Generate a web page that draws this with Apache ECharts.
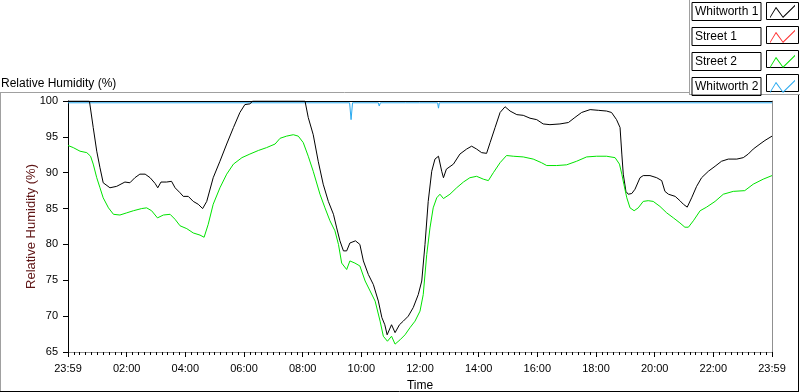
<!DOCTYPE html>
<html>
<head>
<meta charset="utf-8">
<script src="https://cdn.jsdelivr.net/npm/echarts@6/dist/echarts.min.js"></script>
<style>
  html, body { margin: 0; padding: 0; background: #fff; }
  #chart { width: 800px; height: 392px; }
</style>
</head>
<body>
<div id="chart"></div>
<script>
// time in hours since 23:59 of the previous day
var whitworth1Hours = [0, 0.73, 0.86, 0.98, 1.09, 1.2, 1.43, 1.66, 1.94, 2.11, 2.28, 2.45, 2.63, 2.8, 2.97, 3.06, 3.17, 3.36, 3.53, 3.65, 3.82, 3.93, 4.1, 4.27, 4.44, 4.59, 4.73, 4.95, 5.18, 5.41, 5.64, 5.86, 6.03, 6.2, 6.3,
  8.08, 8.19, 8.36, 8.53, 8.7, 8.875, 9.05, 9.16, 9.27, 9.39, 9.5, 9.61, 9.8, 9.95, 10.07, 10.24, 10.41, 10.58, 10.7, 10.8, 10.88, 11.03, 11.15, 11.3, 11.43, 11.6, 11.77, 11.94,
  12.06, 12.17, 12.28, 12.4, 12.51, 12.63, 12.74, 12.8, 12.9, 13.14, 13.36, 13.59, 13.76, 13.93, 14.1, 14.27, 14.39, 14.56, 14.73, 14.9, 15.07, 15.3, 15.52, 15.75, 15.98,
  16.2, 16.43, 16.77, 17.06, 17.28, 17.51, 17.8, 18.08, 18.36, 18.53, 18.7, 18.82, 18.88, 18.93, 19.02, 19.1, 19.22, 19.33, 19.5, 19.61, 19.84, 20.07, 20.24, 20.35, 20.47,
  20.7, 20.86, 20.98, 21.11, 21.26, 21.43, 21.6, 21.83, 22.06, 22.28, 22.51, 22.8, 23.02, 23.19, 23.36, 23.59, 23.76, 24];
var whitworth1Values = [100, 100, 96.3, 93.0, 90.7, 88.6, 87.9, 88.1, 88.7, 88.6, 89.3, 89.8, 89.8, 89.3, 88.5, 87.9, 88.7, 88.7, 88.8, 87.9, 87.2, 86.7, 86.7, 86.0, 85.6, 85.0, 86.0, 89.3, 91.6, 94.0, 96.3, 98.4, 99.5, 99.6, 100,
  100, 97.7, 95.3, 91.6, 88.4, 86.0, 84.2, 82.3, 80.5, 79.1, 79.1, 80.2, 80.5, 80.0, 77.7, 75.8, 74.4, 72.1, 69.8, 68.8, 67.4, 68.8, 67.7, 68.8, 69.3, 70.0, 71.2, 73.0,
  74.9, 80.0, 86.0, 90.2, 91.9, 92.3, 90.2, 89.3, 90.5, 91.2, 92.6, 93.3, 93.7, 93.3, 92.8, 92.7, 94.2, 96.3, 98.4, 99.2, 98.6, 98.1, 98.0, 97.6, 97.4,
  96.8, 96.7, 96.8, 97.0, 97.7, 98.4, 98.8, 98.7, 98.6, 98.4, 97.4, 96.3, 92.6, 89.8, 87.4, 87.0, 87.1, 87.7, 89.3, 89.6, 89.6, 89.3, 88.9, 87.4, 87.0,
  86.7, 86.1, 85.6, 85.2, 86.5, 88.1, 89.3, 90.2, 90.9, 91.6, 91.9, 91.9, 92.1, 92.6, 93.3, 94.0, 94.5, 95.1];

var street1Hours = [];
var street1Values = [];

var street2Hours = [0, 0.18, 0.41, 0.64, 0.77, 0.86, 0.98, 1.09, 1.2, 1.38, 1.55, 1.77, 2.0, 2.23, 2.51, 2.68, 2.85, 3.05, 3.25, 3.48, 3.65, 3.82, 4.05, 4.27, 4.5, 4.64, 4.78, 4.95, 5.18, 5.41, 5.64, 5.93,
  6.2, 6.49, 6.77, 7.06, 7.23, 7.45, 7.68, 7.85, 8.02, 8.19, 8.36, 8.59, 8.76, 8.93, 9.1, 9.22, 9.33, 9.5, 9.61, 9.78, 9.95, 10.13, 10.3, 10.47, 10.64, 10.75, 10.89, 11.03,
  11.15, 11.32, 11.49, 11.66, 11.83, 12.0, 12.11, 12.23, 12.34, 12.45, 12.57, 12.68, 12.8, 13.02, 13.25, 13.48, 13.7, 13.93, 14.16, 14.33, 14.5, 14.73, 14.95, 15.18,
  15.52, 15.86, 16.14, 16.32, 16.66, 17.0, 17.34, 17.68, 18.02, 18.36, 18.65, 18.8, 18.88, 18.95, 19.05, 19.16, 19.3, 19.44, 19.61, 19.78, 19.95, 20.18, 20.41, 20.64,
  20.86, 21.03, 21.15, 21.32, 21.55, 21.77, 22.06, 22.34, 22.68, 23.07, 23.36, 23.7, 24];
var street2Values = [93.8, 93.5, 93.0, 92.8, 92.3, 91.2, 89.3, 87.9, 86.5, 85.1, 84.2, 84.1, 84.4, 84.7, 85.0, 85.1, 84.7, 83.7, 84.1, 84.2, 83.5, 82.6, 82.2, 81.6, 81.3, 81.0, 82.8, 85.6, 87.9, 89.8, 91.2, 92.1,
  92.6, 93.1, 93.5, 94.0, 94.8, 95.1, 95.3, 95.1, 94.2, 92.3, 90.2, 87.0, 85.1, 83.3, 81.9, 80.0, 77.4, 76.5, 77.7, 77.4, 77.0, 74.9, 73.5, 72.1, 69.3, 67.2, 66.5, 67.2,
  66.1, 66.7, 67.4, 68.4, 69.3, 70.7, 73.0, 78.6, 82.3, 85.1, 86.5, 87.0, 86.4, 87.0, 87.9, 88.7, 89.3, 89.5, 89.1, 88.9, 90.0, 91.4, 92.4, 92.3,
  92.2, 91.9, 91.4, 91.0, 91.0, 91.1, 91.6, 92.2, 92.3, 92.3, 92.1, 91.2, 89.8, 88.4, 86.5, 85.1, 84.7, 85.1, 86.0, 86.1, 86.0, 85.3, 84.4, 83.7,
  83.0, 82.4, 82.4, 83.3, 84.7, 85.2, 86.0, 87.0, 87.4, 87.5, 88.4, 89.1, 89.6];

var whitworth2Hours = [0, 9.6, 9.65, 9.7, 10.58, 10.61, 10.65, 11.5, 11.52, 11.55, 11.98, 12.0, 12.03, 12.6, 12.63, 12.66, 24];
var whitworth2Values = [99.75, 99.75, 97.4, 99.75, 99.75, 99.3, 99.75, 99.75, 99.5, 99.75, 99.75, 99.6, 99.75, 99.75, 99.0, 99.75, 99.75];

var seriesNames = ['Whitworth 1', 'Street 1', 'Street 2', 'Whitworth 2'];
var seriesColors = ['#000000', '#ff3030', '#00e400', '#2aaaf0'];

function pairs(hours, values) {
  var out = [];
  for (var i = 0; i < hours.length; i++) out.push([hours[i], values[i]]);
  return out;
}

var seriesData = [
  pairs(whitworth1Hours, whitworth1Values),
  pairs(street1Hours, street1Values),
  pairs(street2Hours, street2Values),
  pairs(whitworth2Hours, whitworth2Values)
];

var font = 'Liberation Sans';
// zigzag sample, with two empty points so it sits inset in its frame
var zigzag = 'path://M-4 -2.3 L-4 -2.3 Z M29 15.7 L29 15.7 Z M0 12 L6 2 L13 11.6 L25 0 L25 1.5 L13 13.2 L6 3.6 L0 13.4 Z';

var chart = echarts.init(document.getElementById('chart'));

function frame(y) {
  return { type: 'rect', shape: { x: 766.5, y: y + 0.5, width: 32, height: 17 }, style: { fill: null, stroke: '#000', lineWidth: 1 }, silent: true };
}
function rule(x1, y1, x2, y2, color) {
  return { type: 'line', shape: { x1: x1, y1: y1, x2: x2, y2: y2 }, style: { stroke: color, lineWidth: 1 }, silent: true };
}

chart.setOption({
  animation: false,
  backgroundColor: '#ffffff',
  title: {
    text: 'Relative Humidity (%)',
    left: 1,
    top: 78,
    padding: 0,
    textStyle: { fontFamily: font, fontSize: 12, fontWeight: 'normal', color: '#000' }
  },
  legend: {
    orient: 'vertical',
    right: 1,
    top: 2,
    padding: 0,
    align: 'right',
    itemWidth: 33,
    itemHeight: 18,
    itemGap: 6,
    icon: zigzag,
    symbolKeepAspect: false,
    data: seriesNames,
    formatter: function (name) { return '{t|' + name + '}'; },
    textStyle: {
      fontFamily: font,
      fontSize: 12,
      color: '#000',
      borderColor: '#000',
      borderWidth: 1,
      padding: [2, 3, 2, 3],
      rich: { t: { width: 63, align: 'left', fontFamily: font, fontSize: 12, lineHeight: 14, color: '#000' } }
    }
  },
  graphic: [
    frame(2), frame(26), frame(50), frame(74),
    rule(0, 92.5, 689, 92.5, '#a0a0a0'),
    rule(0.5, 92, 0.5, 392, '#a0a0a0'),
    rule(0, 391.5, 799, 391.5, '#000'),
    rule(798.5, 95, 798.5, 392, '#000'),
    rule(689.5, 0, 689.5, 95, '#a0a0a0'),
    rule(689, 94.5, 800, 94.5, '#a0a0a0')
  ],
  grid: { left: 68, right: 28, top: 101, bottom: 40, show: false, outerBoundsMode: 'none' },
  xAxis: [
    {
      type: 'value',
      min: 0,
      max: 24,
      interval: 2,
      name: 'Time',
      nameLocation: 'middle',
      nameGap: 28,
      nameMoveOverlap: false,
      nameTextStyle: { fontFamily: font, fontSize: 12, color: '#000' },
      axisLine: { show: true, onZero: false, lineStyle: { color: '#909090', width: 1 } },
      axisTick: { show: true, length: 5, lineStyle: { color: '#000' } },
      minorTick: { show: true, splitNumber: 10, length: 3, lineStyle: { color: '#000' } },
      axisLabel: {
        margin: 11,
        fontFamily: font,
        fontSize: 11,
        color: '#000',
        formatter: function (v) {
          if (v === 0 || v === 24) return '23:59';
          return (v < 10 ? '0' : '') + v + ':00';
        }
      },
      splitLine: { show: false }
    },
    {
      type: 'value',
      position: 'top',
      min: 0,
      max: 24,
      axisLine: { show: true, onZero: false, lineStyle: { color: '#000', width: 1 } },
      axisTick: { show: false },
      axisLabel: { show: false },
      splitLine: { show: false }
    }
  ],
  yAxis: [
    {
      type: 'value',
      min: 65,
      max: 100,
      interval: 5,
      name: 'Relative Humidity (%)',
      nameLocation: 'middle',
      nameGap: 30,
      nameMoveOverlap: false,
      nameTextStyle: { fontFamily: font, fontSize: 13, color: '#5e1414' },
      axisLine: { show: true, onZero: false, lineStyle: { color: '#000', width: 1 } },
      axisTick: { show: true, length: 5, lineStyle: { color: '#000' } },
      axisLabel: { margin: 10, fontFamily: font, fontSize: 11, color: '#000' },
      splitLine: { show: false }
    },
    {
      type: 'value',
      position: 'right',
      min: 65,
      max: 100,
      axisLine: { show: true, onZero: false, lineStyle: { color: '#909090', width: 1 } },
      axisTick: { show: false },
      axisLabel: { show: false },
      splitLine: { show: false }
    }
  ],
  series: seriesNames.map(function (name, i) {
    return {
      name: name,
      type: 'line',
      xAxisIndex: 0,
      yAxisIndex: 0,
      data: seriesData[i],
      showSymbol: false,
      symbol: 'none',
      color: seriesColors[i],
      lineStyle: { color: seriesColors[i], width: 1 },
      z: i === 3 ? 1 : 2
    };
  })
});
</script>
</body>
</html>
